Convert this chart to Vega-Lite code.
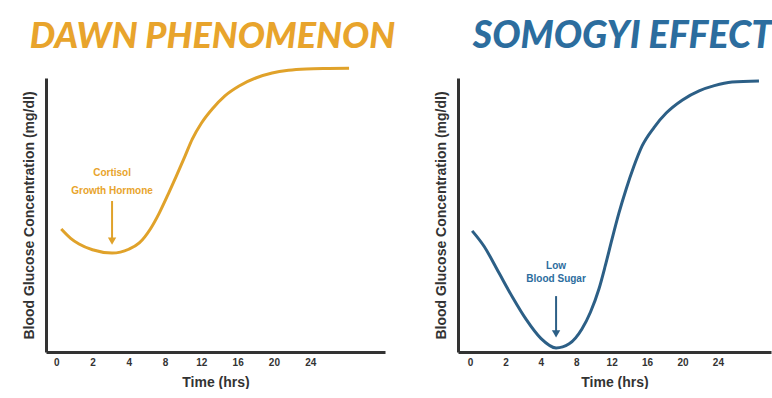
{
  "$schema": "https://vega.github.io/schema/vega-lite/v6.json",
  "padding": {"left": 21, "top": 17, "right": 0, "bottom": 0},
  "background": "white",
  "bounds": "flush",
  "config": {
    "view": {"stroke": null},
    "axis": {"grid": false, "domainColor": "#333333", "domainWidth": 3, "ticks": false,
      "labelFont": "Liberation Sans", "labelFontWeight": "bold", "labelFontSize": 10, "labelColor": "#333333",
      "titleFont": "Liberation Sans", "titleFontWeight": "bold", "titleFontSize": 14, "titleColor": "#333333"},
    "title": {"font": "Lato", "fontStyle": "italic", "fontWeight": 900, "fontSize": 36, "anchor": "middle"}
  },
  "datasets": {
    "dawn": [
      {"t": 0.14, "g": 44.9}, {"t": 0.4, "g": 41.5}, {"t": 0.63, "g": 39.4}, {"t": 1.0, "g": 37.3},
      {"t": 1.54, "g": 36.1}, {"t": 2.0, "g": 37.5}, {"t": 2.29, "g": 39.8}, {"t": 2.6, "g": 45},
      {"t": 2.84, "g": 50.7}, {"t": 3.1, "g": 58}, {"t": 3.31, "g": 64.2}, {"t": 3.55, "g": 71.5},
      {"t": 3.75, "g": 77.7}, {"t": 4.0, "g": 83.5}, {"t": 4.3, "g": 88.7}, {"t": 4.65, "g": 93.5},
      {"t": 5.04, "g": 97.1}, {"t": 5.5, "g": 100}, {"t": 5.95, "g": 101.8}, {"t": 6.4, "g": 102.8},
      {"t": 6.89, "g": 103.3}, {"t": 7.5, "g": 103.5}, {"t": 8.07, "g": 103.6}
    ],
    "somogyi": [
      {"t": 0.06, "g": 44.2}, {"t": 0.4, "g": 38.5}, {"t": 0.82, "g": 28.8}, {"t": 1.2, "g": 20},
      {"t": 1.58, "g": 12.0}, {"t": 2.0, "g": 5}, {"t": 2.43, "g": 1.5}, {"t": 2.8, "g": 3},
      {"t": 3.16, "g": 8.4}, {"t": 3.4, "g": 14.5}, {"t": 3.64, "g": 23.0}, {"t": 3.82, "g": 31.5},
      {"t": 4.01, "g": 41.2}, {"t": 4.2, "g": 50.5}, {"t": 4.41, "g": 59.5}, {"t": 4.62, "g": 67.5},
      {"t": 4.86, "g": 75.2}, {"t": 5.2, "g": 82}, {"t": 5.54, "g": 87.2}, {"t": 6.0, "g": 92},
      {"t": 6.47, "g": 95.3}, {"t": 6.9, "g": 97.2}, {"t": 7.4, "g": 98.5}, {"t": 8.16, "g": 98.9}
    ],
    "dawnNotes": [
      {"t": 1.54, "g": 65.3, "label": "Cortisol"},
      {"t": 1.54, "g": 58.8, "label": "Growth Hormone"}
    ],
    "dawnArrow": [{"t": 1.54, "g": 55.1, "g2": 41, "tip": 40.5}],
    "somNotes": [
      {"t": 2.43, "g": 31.4, "label": "Low"},
      {"t": 2.43, "g": 26.6, "label": "Blood Sugar"}
    ],
    "somArrow": [{"t": 2.43, "g": 20.4, "g2": 7, "tip": 6.6}]
  },
  "hconcat": [
    {
      "width": 339, "height": 274,
      "title": {"text": "DAWN PHENOMENON", "color": "#E8A42C", "offset": 6, "dx": -3},
      "layer": [
        {
          "data": {"name": "dawn"},
          "mark": {"type": "line", "interpolate": "monotone", "color": "#E0A22A", "strokeWidth": 3},
          "encoding": {
            "x": {"field": "t", "type": "quantitative", "scale": {"domain": [-0.28, 9.06], "nice": false, "zero": false},
              "axis": {"values": [0, 1, 2, 3, 4, 5, 6, 7], "labelExpr": "['0','2','4','8','12','16','20','24'][datum.value]", "title": "Time (hrs)", "labelPadding": 5, "titlePadding": 8}},
            "y": {"field": "g", "type": "quantitative", "scale": {"domain": [0, 100], "nice": false},
              "axis": {"labels": false, "title": "Blood Glucose Concentration (mg/dl)", "titleFontSize": 14, "titlePadding": 10}}
          }
        },
        {
          "data": {"name": "dawnNotes"},
          "mark": {"type": "text", "font": "Liberation Sans", "fontWeight": "bold", "fontSize": 10, "color": "#E8A42C"},
          "encoding": {
            "x": {"field": "t", "type": "quantitative"},
            "y": {"field": "g", "type": "quantitative"},
            "text": {"field": "label"}
          }
        },
        {
          "data": {"name": "dawnArrow"},
          "mark": {"type": "rule", "color": "#E0A22A", "strokeWidth": 2},
          "encoding": {
            "x": {"field": "t", "type": "quantitative"},
            "y": {"field": "g", "type": "quantitative"},
            "y2": {"field": "g2"}
          }
        },
        {
          "data": {"name": "dawnArrow"},
          "mark": {"type": "point", "shape": "triangle-down", "filled": true, "size": 70, "color": "#E0A22A", "opacity": 1},
          "encoding": {
            "x": {"field": "t", "type": "quantitative"},
            "y": {"field": "tip", "type": "quantitative"}
          }
        }
      ]
    },
    {
      "width": 313, "height": 274,
      "title": {"text": "SOMOGYI EFFECT", "color": "#2C6D9E", "offset": 20, "fontSize": 37.5, "dx": 8},
      "layer": [
        {
          "data": {"name": "somogyi"},
          "mark": {"type": "line", "interpolate": "monotone", "color": "#2C5F86", "strokeWidth": 3},
          "encoding": {
            "x": {"field": "t", "type": "quantitative", "scale": {"domain": [-0.34, 8.5], "nice": false, "zero": false},
              "axis": {"values": [0, 1, 2, 3, 4, 5, 6, 7], "labelExpr": "['0','2','4','8','12','16','20','24'][datum.value]", "title": "Time (hrs)", "labelPadding": 5, "titlePadding": 8}},
            "y": {"field": "g", "type": "quantitative", "scale": {"domain": [0, 100], "nice": false},
              "axis": {"labels": false, "title": "Blood Glucose Concentration (mg/dl)", "titleFontSize": 14, "titlePadding": 10}}
          }
        },
        {
          "data": {"name": "somNotes"},
          "mark": {"type": "text", "font": "Liberation Sans", "fontWeight": "bold", "fontSize": 10, "color": "#2C6D9E"},
          "encoding": {
            "x": {"field": "t", "type": "quantitative"},
            "y": {"field": "g", "type": "quantitative"},
            "text": {"field": "label"}
          }
        },
        {
          "data": {"name": "somArrow"},
          "mark": {"type": "rule", "color": "#2C5F86", "strokeWidth": 2},
          "encoding": {
            "x": {"field": "t", "type": "quantitative"},
            "y": {"field": "g", "type": "quantitative"},
            "y2": {"field": "g2"}
          }
        },
        {
          "data": {"name": "somArrow"},
          "mark": {"type": "point", "shape": "triangle-down", "filled": true, "size": 70, "color": "#2C5F86", "opacity": 1},
          "encoding": {
            "x": {"field": "t", "type": "quantitative"},
            "y": {"field": "tip", "type": "quantitative"}
          }
        }
      ]
    }
  ],
  "spacing": 73
}
